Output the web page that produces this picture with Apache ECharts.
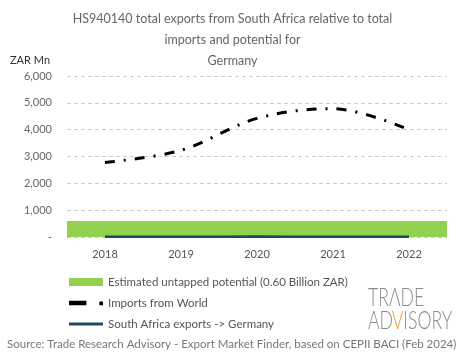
<!DOCTYPE html>
<html><head><meta charset="utf-8">
<script src="https://cdn.jsdelivr.net/npm/echarts@6/dist/echarts.min.js"></script>
<style>html,body{margin:0;padding:0;background:#fff}#c{width:465px;height:359px}</style>
</head><body><div id="c"></div>
<script>
const years = ['2018','2019','2020','2021','2022'];
const potential = [600,600,600,600,600];
const importsWorld = [2780,3230,4420,4780,4000];
const saExports = [8,10,14,10,8];
const yTicks = [0,1000,2000,3000,4000,5000,6000];

const chart = echarts.init(document.getElementById('c'));
const font = 'Lato, "Noto Sans", sans-serif';
const legendNames = ['Estimated untapped potential (0.60 Billion ZAR)','Imports from World','South Africa exports -> Germany'];
chart.setOption({
  animation:false,
  textStyle:{fontFamily:font},
  title:{
    text:'HS940140 total exports from South Africa relative to total\nimports and potential for\nGermany',
    left:'center', top:3,
    textStyle:{fontSize:12.5, fontWeight:'normal', color:'#666', lineHeight:21, fontFamily:font}
  },
  grid:{left:67, right:18, top:76, bottom:122},
  xAxis:{
    type:'category', data:years, boundaryGap:true,
    axisLine:{show:false}, axisTick:{show:false},
    axisLabel:{color:'#555', fontSize:11, margin:12}
  },
  yAxis:{
    type:'value', min:0, max:6000, interval:1000,
    name:'ZAR Mn', nameLocation:'end', nameGap:10,
    nameTextStyle:{color:'#333', fontSize:11, align:'left', padding:[0,0,0,-57]},
    axisLine:{show:false}, axisTick:{show:false},
    axisLabel:{color:'#666', fontSize:11, margin:15,
      formatter:v=> v===0 ? '-' : v.toLocaleString('en-US')},
    splitLine:{lineStyle:{type:[4,3], color:'#ccc'}}
  },
  legend:{
    orient:'vertical', left:64, top:271, itemGap:9,
    itemWidth:34, itemHeight:8,
    textStyle:{color:'#555', fontSize:11.5},
    data:[
      {name:legendNames[0], icon:'rect'},
      {name:legendNames[1], icon:'path://M0,0h12v3h-12z M21,0.5h2.5v2.5h-2.5z', itemStyle:{color:'#000'}},
      {name:legendNames[2], icon:'path://M0,0h34v3h-34z', itemStyle:{color:'#1d4b5c'}}
    ]
  },
  series:[
    {name:legendNames[0], type:'bar', data:potential,
     barCategoryGap:'0%', itemStyle:{color:'#92d050'}, z:1},
    {name:legendNames[1], type:'line', data:importsWorld, smooth:0.35,
     symbol:'none', lineStyle:{color:'#000', width:3, type:[10,9,2,9]},
     itemStyle:{color:'#000'}, z:3},
    {name:legendNames[2], type:'line', data:saExports, smooth:true,
     symbol:'none', lineStyle:{color:'#1d4b5c', width:2.5},
     itemStyle:{color:'#1d4b5c'}, z:4}
  ],
  graphic:[
    {type:'group', left:368, top:285, scaleX:0.68, children:[
      {type:'text', x:0, y:0, style:{text:'TRΛDE', font:'300 26px '+font, fill:'#8a8a8a'}},
      {type:'text', x:0, y:23, style:{text:'AD', font:'300 26px '+font, fill:'#8a8a8a'}},
      {type:'text', x:35, y:23, style:{text:'V', font:'300 26px '+font, fill:'#f0a030'}},
      {type:'text', x:52, y:23, style:{text:'ISORY', font:'300 26px '+font, fill:'#8a8a8a'}}
    ]},
    {type:'text', left:7, top:338, style:{text:'Source: Trade Research Advisory - Export Market Finder, based on CEPII BACI (Feb 2024)', font:'11.5px '+font, fill:'#777'}}
  ]
});
</script></body></html>
